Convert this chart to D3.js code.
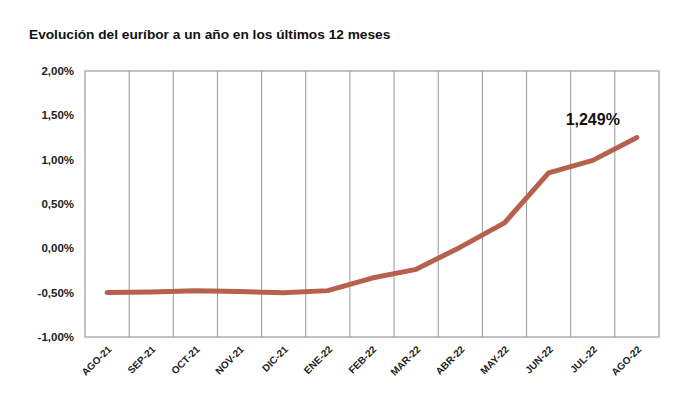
<!DOCTYPE html>
<html>
<head>
<meta charset="utf-8">
<script src="https://cdn.jsdelivr.net/npm/d3@7"></script>
<style>
  body { margin: 0; background: #fff; }
  text { font-family: "Liberation Sans", Arial, Helvetica, sans-serif; }
</style>
</head>
<body>
<div id="vis"></div>
<script>
var months = ['AGO-21', 'SEP-21', 'OCT-21', 'NOV-21', 'DIC-21', 'ENE-22', 'FEB-22',
  'MAR-22', 'ABR-22', 'MAY-22', 'JUN-22', 'JUL-22', 'AGO-22'];
var euribor = [-0.498, -0.492, -0.477, -0.487, -0.502, -0.477, -0.335,
  -0.237, 0.013, 0.287, 0.852, 0.992, 1.249];
var yTicks = [-1, -0.5, 0, 0.5, 1, 1.5, 2];

var width = 688;
var height = 397;
var margin = { top: 71, right: 29, bottom: 60, left: 85 };

var svg = d3.select('#vis')
  .append('svg')
  .attr('width', width)
  .attr('height', height);

var x = d3.scaleBand()
  .domain(months)
  .range([margin.left, width - margin.right]);

var y = d3.scaleLinear()
  .domain([-1, 2])
  .range([height - margin.bottom, margin.top]);

function fmt(v) {
  return d3.format('.2f')(v).replace('.', ',').replace('−', '-') + '%';
}

// title
svg.append('text')
  .attr('x', 29)
  .attr('y', 39)
  .attr('font-size', 13.7)
  .attr('font-weight', 'bold')
  .attr('fill', '#111')
  .text('Evolución del euríbor a un año en los últimos 12 meses');

// vertical grid lines at band edges
svg.append('g')
  .selectAll('line')
  .data(months.slice(1))
  .enter().append('line')
  .attr('x1', function (d) { return x(d); })
  .attr('x2', function (d) { return x(d); })
  .attr('y1', y(2))
  .attr('y2', y(-1))
  .attr('stroke', '#9a9a9a')
  .attr('stroke-width', 1);

// plot frame
svg.append('rect')
  .attr('x', margin.left)
  .attr('y', y(2))
  .attr('width', x.range()[1] - x.range()[0])
  .attr('height', y(-1) - y(2))
  .attr('fill', 'none')
  .attr('stroke', '#9a9a9a')
  .attr('stroke-width', 1.2);

// y labels
svg.append('g')
  .selectAll('text')
  .data(yTicks)
  .enter().append('text')
  .attr('x', margin.left - 11)
  .attr('y', function (d) { return y(d) + 4; })
  .attr('text-anchor', 'end')
  .attr('font-size', 11.5)
  .attr('font-weight', 'bold')
  .attr('fill', '#222')
  .text(fmt);

// x labels
svg.append('g')
  .selectAll('text')
  .data(months)
  .enter().append('text')
  .attr('text-anchor', 'end')
  .attr('font-size', 10)
  .attr('font-weight', 'bold')
  .attr('fill', '#222')
  .attr('transform', function (d) {
    return 'translate(' + (x(d) + x.bandwidth() / 2 + 5) + ',' + (y(-1) + 13) + ') rotate(-45)';
  })
  .text(function (d) { return d; });

// line
var line = d3.line()
  .x(function (d, i) { return x(months[i]) + x.bandwidth() / 2; })
  .y(function (d) { return y(d); });

svg.append('path')
  .datum(euribor)
  .attr('d', line)
  .attr('fill', 'none')
  .attr('stroke', '#b6614d')
  .attr('stroke-width', 5)
  .attr('stroke-linecap', 'round')
  .attr('stroke-linejoin', 'round');

// last value label
var last = euribor.length - 1;
svg.append('text')
  .attr('x', x(months[last - 1]) + x.bandwidth() / 2)
  .attr('y', y(euribor[last]) - 13)
  .attr('text-anchor', 'middle')
  .attr('font-size', 16)
  .attr('font-weight', 'bold')
  .attr('fill', '#111')
  .text(d3.format('.3f')(euribor[last]).replace('.', ',') + '%');
</script>
</body>
</html>
